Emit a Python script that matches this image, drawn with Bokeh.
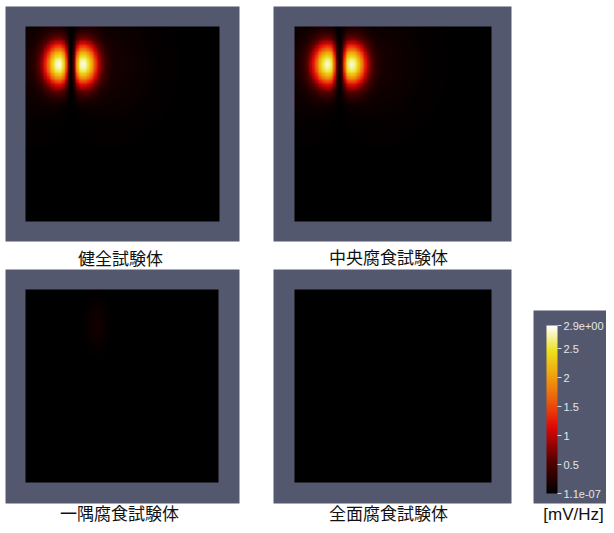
import numpy as np
from bokeh.plotting import figure
from bokeh.models import Range1d, LinearColorMapper, ColorBar, FixedTicker, ColumnDataSource
from bokeh.core.properties import value
from bokeh.embed import file_html
from bokeh.resources import INLINE

# ---------------- data ----------------
specimens = ["健全試験体", "中央腐食試験体", "一隅腐食試験体", "全面腐食試験体"]
# two-lobe response: centre of the pair, as fraction of the inspected square (from top-left)
lobe_mid_x = [0.235, 0.229, 0.0, 0.0]
lobe_mid_y = [0.195, 0.196, 0.0, 0.0]
lobe_half_sep = [0.066, 0.065, 0.05, 0.05]
lobe_peak = [2.65, 2.6, 0.0, 0.0]          # mV/Hz
lobe_spread_x = [0.052, 0.052, 0.05, 0.05]
lobe_spread_y = [0.078, 0.078, 0.05, 0.05]
lobe_gap = [0.018, 0.018, 0.018, 0.018]
# weak single spot
spot_x = [0.0, 0.0, 0.37, 0.0]
spot_y = [0.0, 0.0, 0.18, 0.0]
spot_peak = [0.0, 0.0, 0.13, 0.0]          # mV/Hz
spot_spread_x = [0.05, 0.05, 0.035, 0.05]
spot_spread_y = [0.05, 0.05, 0.085, 0.05]

cbar_low, cbar_high = 1.1e-07, 2.9
cbar_ticks = [1.1e-07, 0.5, 1.0, 1.5, 2.0, 2.5, 2.9]
cbar_labels = ["1.1e-07", "0.5", "1", "1.5", "2", "2.5", "2.9e+00"]
unit_label = "[mV/Hz]"

# ---------------- layout (picture pixel coords, y downward) ----------------
W, H = 606, 525          # canvas size
YB = 533                 # picture height (for y flip)
outer = [(5, 239, 6, 241), (273, 511, 6, 241), (5, 239, 269, 503), (273, 511, 269, 503)]
inner = [(25, 219, 26, 221), (294, 491, 26, 221), (25, 218, 289, 482), (294, 491, 289, 482)]
title_pos = [(120, 256.5), (388, 256), (119, 511.5), (388, 511.5)]
FRAME = "#54586f"

def Y(y):
    return YB - y

# colour map (black-body radiation)
ctrl_pos = [0.0, 0.2, 0.4, 0.55, 0.7, 0.85, 1.0]
ctrl_rgb = [(0, 0, 0), (90, 0, 0), (225, 8, 6), (236, 90, 10), (240, 160, 12), (236, 226, 30), (255, 255, 255)]
palette = []
for k in range(256):
    f = k / 255
    r, g, b = (np.interp(f, ctrl_pos, [c[j] for c in ctrl_rgb]) for j in range(3))
    palette.append("#%02x%02x%02x" % (int(round(r)), int(round(g)), int(round(b))))
mapper = LinearColorMapper(palette=palette, low=cbar_low, high=cbar_high)

p = figure(width=W, height=H, x_range=Range1d(0, W), y_range=Range1d(YB - H, YB),
           output_backend="svg", toolbar_location=None, min_border=0,
           background_fill_color="white", border_fill_color="white")
p.axis.visible = False
p.grid.visible = False
p.outline_line_color = None

# frames
p.quad(left=[o[0] for o in outer], right=[o[1] for o in outer],
       top=[Y(o[2]) for o in outer], bottom=[Y(o[3]) for o in outer],
       fill_color=FRAME, line_color=None)

N = 140
s = (np.arange(N) + 0.5) / N
X, T = np.meshgrid(s, s)
for i in range(4):
    dx = X - lobe_mid_x[i]
    v = (T - lobe_mid_y[i]) / lobe_spread_y[i]
    ua = (dx - lobe_half_sep[i]) / lobe_spread_x[i]
    ub = (dx + lobe_half_sep[i]) / lobe_spread_x[i]
    lobes = np.exp(-(ua ** 2 + v ** 2) / 2) + np.exp(-(ub ** 2 + v ** 2) / 2)
    notch = 1 - np.exp(-(dx / lobe_gap[i]) ** 2 / 2)
    fld = lobe_peak[i] * lobes * notch
    u2 = dx / (3 * lobe_half_sep[i])
    v2 = v / 2.5
    fld = fld + 0.05 * lobe_peak[i] * np.abs(u2) * np.exp((1 - u2 ** 2 - v2 ** 2) / 2)
    a = (X - spot_x[i]) / spot_spread_x[i]
    b = (T - spot_y[i]) / spot_spread_y[i]
    fld = fld + spot_peak[i] * np.exp(-(a ** 2 + b ** 2) / 2)
    l, r, t, bt = inner[i]
    p.image(image=[fld[::-1]], x=l, y=Y(bt), dw=r - l, dh=bt - t, color_mapper=mapper)

# titles
src = ColumnDataSource(dict(x=[t[0] for t in title_pos], y=[Y(t[1]) for t in title_pos], text=specimens))
p.text(x="x", y="y", text="text", source=src, text_font=value("Noto Sans CJK JP"),
       text_font_size="17px", text_color="#111111", text_align="center", text_baseline="middle")

# colour bar box
p.quad(left=[533], right=[630], top=[Y(310)], bottom=[Y(503)], fill_color=FRAME, line_color=None)
cb = ColorBar(color_mapper=mapper, ticker=FixedTicker(ticks=cbar_ticks),
              major_label_overrides={t: lab for t, lab in zip(cbar_ticks, cbar_labels)},
              width=11, height=168, padding=0, location=(546, H - 493),
              background_fill_alpha=0, border_line_color=None, bar_line_color=None,
              major_tick_in=0, major_tick_out=4, major_tick_line_color="#d8d8d8",
              minor_tick_line_color=None, label_standoff=2,
              major_label_text_color="#e6e6e6", major_label_text_font_size="11px",
              major_label_text_font="Liberation Sans")
p.add_layout(cb)
p.text(x=[573], y=[Y(514)], text=[unit_label], text_font=value("Liberation Sans"),
       text_font_size="17px", text_color="#111111", text_align="center", text_baseline="middle")

open("out.html", "w").write(file_html(p, INLINE))
